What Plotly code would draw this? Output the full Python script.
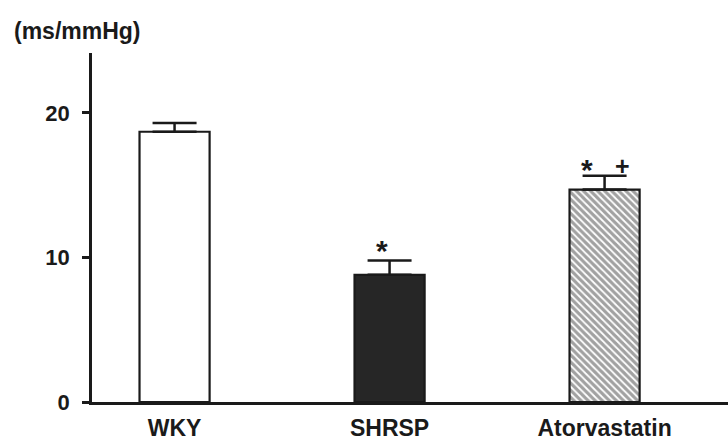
import plotly.graph_objects as go

categories = ["WKY", "SHRSP", "Atorvastatin"]
values = [18.7, 8.8, 14.7]
errors = [0.6, 1.0, 0.95]
y_ticks = [0, 10, 20]
y_title = "(ms/mmHg)"
marks = [("SHRSP", "*", -8, -9, 30), ("Atorvastatin", "*", -18, -12, 30), ("Atorvastatin", "+", 18, -6, 25)]

FONT = "Arial, Liberation Sans, sans-serif"
INK = "#1a1a1a"

fig = go.Figure()
fig.add_trace(go.Bar(
    x=categories,
    y=values,
    width=0.326,
    marker=dict(
        color=["white", "#262626", "white"],
        line=dict(color=INK, width=2.2),
        pattern=dict(shape=["", "", "\\"], size=5, solidity=0.65,
                     fgcolor=INK, bgcolor="white"),
    ),
    error_y=dict(type="data", symmetric=False, array=errors,
                 arrayminus=[0, 0, 0], color=INK, thickness=2.5, width=22),
    showlegend=False,
    hoverinfo="skip",
))

tops = {c: v + e for c, v, e in zip(categories, values, errors)}
for cat, txt, dx, dy, sz in marks:
    fig.add_annotation(
        x=cat, y=tops[cat], text=txt, showarrow=False, xshift=dx,
        yshift=dy, yanchor="bottom",
        font=dict(family=FONT, size=sz, color=INK, weight="bold"),
    )

fig.add_annotation(
    xref="paper", yref="paper", x=-0.1258, y=1.0, xanchor="left", yanchor="middle",
    yshift=22, text=y_title, showarrow=False,
    font=dict(family=FONT, size=23, color=INK, weight="bold"),
)

fig.update_layout(
    width=728, height=441,
    margin=dict(l=92, r=0, t=53, b=27),
    paper_bgcolor="white", plot_bgcolor="white",
    hovermode=False,
    xaxis=dict(
        range=[-0.384, 2.574], showline=True, linecolor=INK, linewidth=2.5,
        ticks="", showgrid=False, zeroline=False, ticklabelstandoff=4,
        tickfont=dict(family=FONT, size=23, color=INK, weight="bold"),
    ),
    yaxis=dict(
        range=[0, 24.15], tickvals=y_ticks, showline=True, linecolor=INK,
        linewidth=2.5, ticks="outside", ticklen=7, tickwidth=2.5, tickcolor=INK,
        showgrid=False, zeroline=False, ticklabelstandoff=8,
        tickfont=dict(family=FONT, size=22, color=INK, weight="bold"),
    ),
)

fig.write_html(
    "out.html",
    config={"displayModeBar": False},
    post_script="document.body.style.margin='0';document.body.style.overflow='hidden';",
)
